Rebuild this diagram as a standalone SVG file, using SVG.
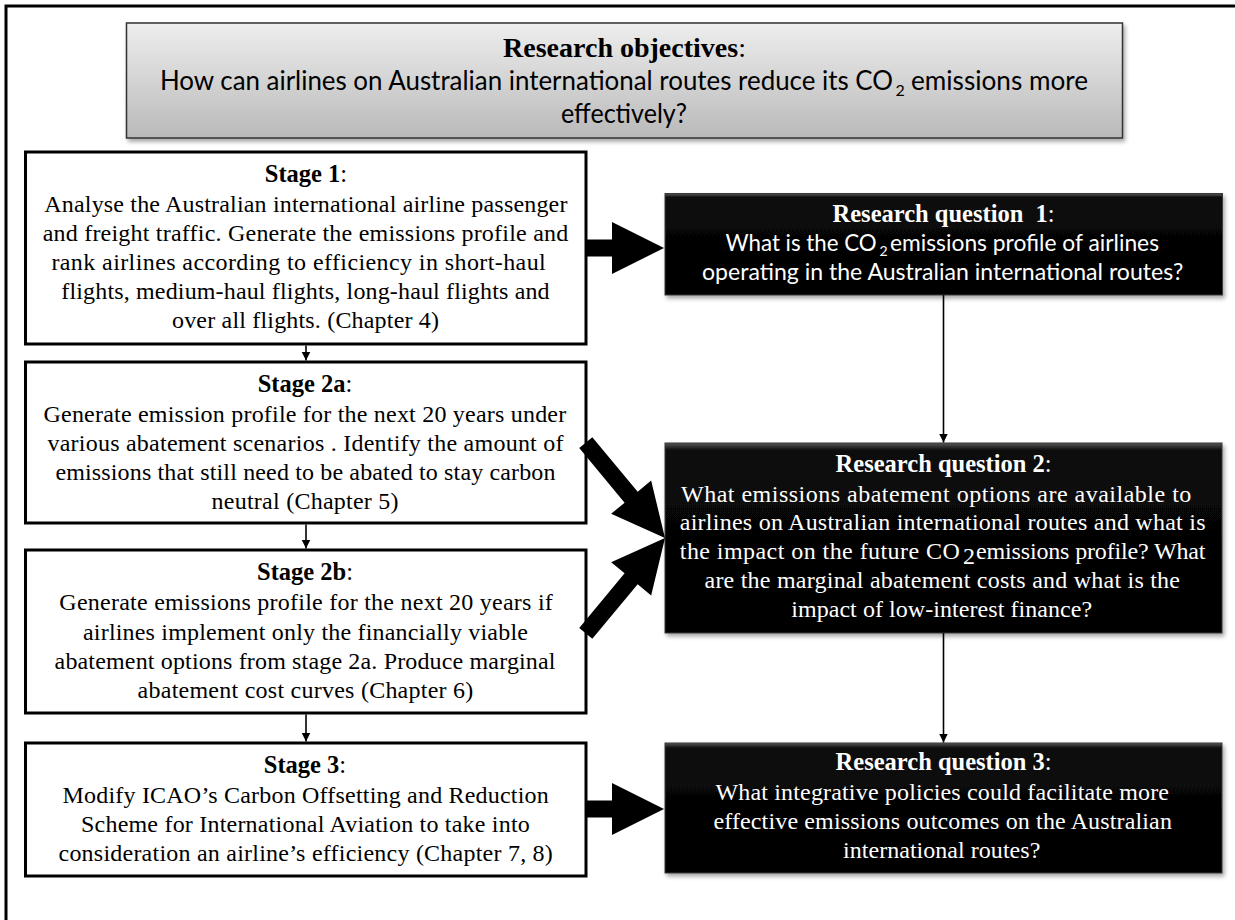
<svg xmlns="http://www.w3.org/2000/svg" width="1235" height="920" viewBox="0 0 1235 920">
<style>
.frame{fill:none;stroke:#000;stroke-width:3}
.stage{fill:#fff;stroke:#000;stroke-width:3}
.obj{fill:url(#gObj);stroke:#333;stroke-width:1.5;filter:url(#shadow)}
.rq{fill:url(#gRq);stroke:#3a3a3a;stroke-width:1;filter:url(#shadow)}
.ser{font-family:"Liberation Serif","Times New Roman",serif;font-size:24px}
.serb{font-family:"Liberation Serif","Times New Roman",serif;font-size:24.5px;font-weight:bold}
.sans{font-family:Lato,"Liberation Sans",sans-serif}
.blk{fill:#000}
.wt{fill:#fff}
.thin{stroke:#000;stroke-width:1.6;fill:none;marker-end:url(#ah)}
.nb{font-weight:normal}
</style>
<defs>
<linearGradient id="gObj" x1="0" y1="0" x2="0" y2="1">
<stop offset="0" stop-color="#eeeeee"/>
<stop offset="1" stop-color="#b9b9b9"/>
</linearGradient>
<linearGradient id="gRq" x1="0" y1="0" x2="0" y2="1">
<stop offset="0" stop-color="#555"/>
<stop offset="0.04" stop-color="#0a0a0a"/>
<stop offset="1" stop-color="#000"/>
</linearGradient>
<filter id="shadow" x="-5%" y="-10%" width="110%" height="125%">
<feDropShadow dx="2" dy="3" stdDeviation="2" flood-color="#000" flood-opacity="0.35"/>
</filter>
<marker id="ah" markerUnits="userSpaceOnUse" markerWidth="10" markerHeight="10" refX="9" refY="5" orient="auto">
<path d="M0,0.5 L9,5 L0,9.5 z" fill="#000"/>
</marker>
</defs>

<path class="frame" d="M6,920 V6 H1235"/>

<g id="objective">
<rect class="obj" x="126.5" y="23" width="996" height="115"/>
<text x="624.5" y="57" text-anchor="middle" font-family="Liberation Serif,Times New Roman,serif" font-size="28" font-weight="bold">Research objectives<tspan font-weight="normal">:</tspan></text>
<text class="sans" x="160" y="90" font-size="26" textLength="733" lengthAdjust="spacingAndGlyphs">How can airlines on Australian international routes reduce its CO</text>
<text class="sans" x="895.5" y="96" font-size="16">2</text>
<text class="sans" x="911" y="90" font-size="26" textLength="177" lengthAdjust="spacingAndGlyphs">emissions more</text>
<text class="sans" x="561" y="123" font-size="26" textLength="126" lengthAdjust="spacingAndGlyphs">effectively?</text>
</g>

<g id="stage1">
<rect class="stage" x="25.5" y="152" width="560.5" height="192"/>
<text class="serb" x="306" y="182" text-anchor="middle">Stage 1<tspan class="nb">:</tspan></text>
<text class="ser" x="44.3" y="212" textLength="523.1">Analyse the Australian international airline passenger</text>
<text class="ser" x="42.7" y="241" textLength="525.5">and freight traffic. Generate the emissions profile and</text>
<text class="ser" x="51.4" y="270" textLength="494.3">rank airlines according to efficiency in short-haul</text>
<text class="ser" x="61.3" y="299" textLength="488.3">flights, medium-haul flights, long-haul flights and</text>
<text class="ser" x="172" y="328" textLength="267">over all flights. (Chapter 4)</text>
</g>

<g id="stage2a">
<rect class="stage" x="25.5" y="362" width="560.5" height="161"/>
<text class="serb" x="305" y="392" text-anchor="middle">Stage 2a<tspan class="nb">:</tspan></text>
<text class="ser" x="43.5" y="422" textLength="522.7">Generate emission profile for the next 20 years under</text>
<text class="ser" x="47.4" y="451" textLength="516.1">various abatement scenarios . Identify the amount of</text>
<text class="ser" x="55.4" y="480" textLength="500.1">emissions that still need to be abated to stay carbon</text>
<text class="ser" x="211.5" y="509" textLength="187.1">neutral (Chapter 5)</text>
</g>

<g id="stage2b">
<rect class="stage" x="25.5" y="550" width="560.5" height="163"/>
<text class="serb" x="305" y="580" text-anchor="middle">Stage 2b<tspan class="nb">:</tspan></text>
<text class="ser" x="59.3" y="610" textLength="493.5">Generate emissions profile for the next 20 years if</text>
<text class="ser" x="83" y="640" textLength="444.9">airlines implement only the financially viable</text>
<text class="ser" x="54.6" y="669" textLength="500.9">abatement options from stage 2a. Produce marginal</text>
<text class="ser" x="137.6" y="698" textLength="335.7">abatement cost curves (Chapter 6)</text>
</g>

<g id="stage3">
<rect class="stage" x="25.5" y="743" width="560.5" height="133"/>
<text class="serb" x="305" y="773" text-anchor="middle">Stage 3<tspan class="nb">:</tspan></text>
<text class="ser" x="62.5" y="803" textLength="486.3">Modify ICAO’s Carbon Offsetting and Reduction</text>
<text class="ser" x="81" y="832" textLength="448.8">Scheme for International Aviation to take into</text>
<text class="ser" x="58.5" y="861" textLength="494.3">consideration an airline’s efficiency (Chapter 7, 8)</text>
</g>

<g id="rq1">
<rect class="rq" x="665" y="193.5" width="557.5" height="101.5"/>
<text class="serb wt" x="943.6" y="222" text-anchor="middle" font-size="25" xml:space="preserve">Research question  1<tspan class="nb">:</tspan></text>
<text class="sans wt" x="725.6" y="251" font-size="23" textLength="151" lengthAdjust="spacingAndGlyphs">What is the CO</text>
<text class="sans wt" x="879.5" y="256" font-size="14">2</text>
<text class="sans wt" x="890" y="251" font-size="23" textLength="269" lengthAdjust="spacingAndGlyphs">emissions profile of airlines</text>
<text class="sans wt" x="702" y="280" font-size="23" textLength="481.2" lengthAdjust="spacingAndGlyphs">operating in the Australian international routes?</text>
</g>

<g id="rq2">
<rect class="rq" x="665" y="443" width="557" height="190"/>
<text class="serb wt" x="943.6" y="472" text-anchor="middle" font-size="25">Research question 2<tspan class="nb">:</tspan></text>
<text class="ser wt" x="681" y="502" textLength="510.3">What emissions abatement options are available to</text>
<text class="ser wt" x="679.8" y="530" textLength="525.7">airlines on Australian international routes and what is</text>
<text class="ser wt" x="679.8" y="559" textLength="280">the impact on the future CO</text>
<text class="ser wt" x="963" y="564" font-size="15">2</text>
<text class="ser wt" x="976" y="559" textLength="229.5">emissions profile? What</text>
<text class="ser wt" x="704.5" y="588" textLength="475.5">are the marginal abatement costs and what is the</text>
<text class="ser wt" x="791.2" y="617" textLength="300.9">impact of low-interest finance?</text>
</g>

<g id="rq3">
<rect class="rq" x="665" y="743" width="557" height="130"/>
<text class="serb wt" x="943.6" y="770" text-anchor="middle" font-size="25">Research question 3<tspan class="nb">:</tspan></text>
<text class="ser wt" x="715.4" y="800" textLength="453.6">What integrative policies could facilitate more</text>
<text class="ser wt" x="713.4" y="829" textLength="458.5">effective emissions outcomes on the Australian</text>
<text class="ser wt" x="843" y="858" textLength="197.3">international routes?</text>
</g>

<g id="connectors">
<line class="thin" x1="306" y1="345.5" x2="306" y2="360.5"/>
<line class="thin" x1="306" y1="524.5" x2="306" y2="548.5"/>
<line class="thin" x1="306" y1="714.5" x2="306" y2="741.5"/>
<line class="thin" x1="943.5" y1="295" x2="943.5" y2="442.5"/>
<line class="thin" x1="943.5" y1="633" x2="943.5" y2="742.5"/>
<polygon class="blk" transform="translate(664,248)" points="-78,-8.5 -52,-8.5 -52,-26 0,0 -52,26 -52,8.5 -78,8.5"/>
<polygon class="blk" transform="translate(664,809)" points="-78,-8.5 -52,-8.5 -52,-26 0,0 -52,26 -52,8.5 -78,8.5"/>
<polygon class="blk" transform="translate(665,538) rotate(50.3)" points="-124,-8.5 -53,-8.5 -53,-26 0,0 -53,26 -53,8.5 -124,8.5"/>
<polygon class="blk" transform="translate(665,538) rotate(-50.3)" points="-124,-8.5 -53,-8.5 -53,-26 0,0 -53,26 -53,8.5 -124,8.5"/>
</g>
</svg>
